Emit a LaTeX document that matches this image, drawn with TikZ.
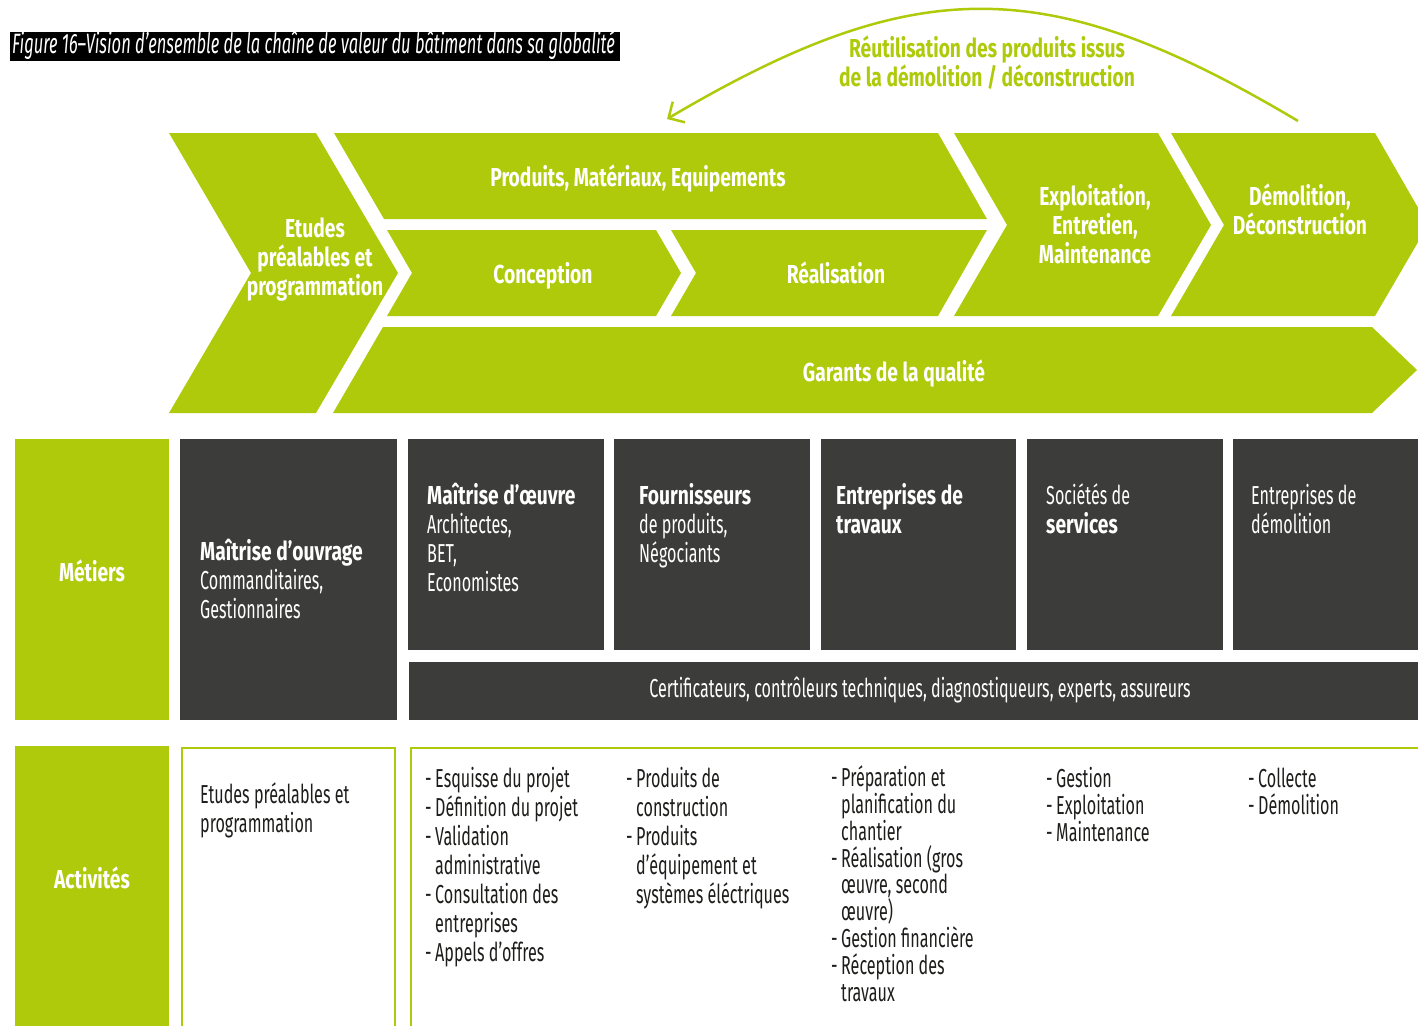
\documentclass[tikz,border=0pt]{standalone}
\usepackage{fontspec}
\setmainfont[UprightFeatures={FakeStretch=0.62},BoldFeatures={FakeStretch=0.74},ItalicFeatures={FakeStretch=0.59}]{Fira Sans}
\usetikzlibrary{arrows.meta}
\definecolor{vgreen}{RGB}{175,202,11}
\definecolor{vdark}{RGB}{60,60,59}
\definecolor{vtext}{RGB}{29,29,27}
\newcommand\vitem{\makebox[10pt][l]{-}}
\newcommand\vcont{\hspace*{10pt}}
\begin{document}
\begin{tikzpicture}[x=1pt,y=-1pt,
  greenshape/.style={fill=vgreen},
  darkshape/.style={fill=vdark},
  actbox/.style={draw=vgreen,line width=2.5pt},
  chevlabel/.style={text=white,font=\fontsize{26}{29}\selectfont\bfseries,align=center,inner sep=0pt},
  sidelabel/.style={chevlabel},
  boxtext/.style={text=white,font=\fontsize{26}{29}\selectfont,align=left,inner sep=0pt,anchor=base west},
  acttext/.style={text=vtext,font=\fontsize{26}{29}\selectfont,align=left,inner sep=0pt,anchor=base west},
  acttight/.style={acttext,font=\fontsize{26}{26.8}\selectfont},
  reuse/.style={draw=vgreen,line width=2.5pt,-{Straight Barb[length=12pt,width=24pt]}}
]
\useasboundingbox (0,0) rectangle (1418,1025);
\clip (0,0) rectangle (1418,1025);

% title
\fill[black] (10,32) rectangle (620,61);
\node[anchor=base west,text=white,inner sep=0pt,font=\itshape\fontsize{28}{30}\selectfont] (title) at (12,54) {Figure 16–Vision d’ensemble de la chaîne de valeur du bâtiment dans sa globalité};

% chevrons
\path[greenshape] (169,133) -- (316,133) -- (398,273) -- (316,413) -- (169,413) -- (251,273) -- cycle;
\path[greenshape] (334,133) -- (938,133) -- (987,219) -- (384,219) -- cycle;
\path[greenshape] (387,230) -- (656,230) -- (681,273) -- (656,316) -- (387,316) -- (412,273) -- cycle;
\path[greenshape] (671,230) -- (987,230) -- (938,316) -- (671,316) -- (696,273) -- cycle;
\path[greenshape] (954,133) -- (1158,133) -- (1211,225) -- (1158,316) -- (954,316) -- (1007,225) -- cycle;
\path[greenshape] (1171,133) -- (1375,133) -- (1428,225) -- (1375,316) -- (1171,316) -- (1224,225) -- cycle;
\path[greenshape] (383,327) -- (1372,327) -- (1417,370) -- (1372,413) -- (333,413) -- cycle;

\node[chevlabel] (etudes) at (315,260) {Etudes\\préalables et\\programmation};
\node[chevlabel] (prod) at (638,179) {Produits, Matériaux, Equipements};
\node[chevlabel] (conc) at (543,276) {Conception};
\node[chevlabel] (real) at (836,273) {Réalisation};
\node[chevlabel] (expl) at (1095,224) {Exploitation,\\Entretien,\\Maintenance};
\node[chevlabel] (demo) at (1300,209) {Démolition,\\Déconstruction};
\node[chevlabel] (gar) at (894,374) {Garants de la qualité};

% reuse arc
\coordinate (arcS) at (1298,121);
\coordinate (arcE) at (667,119);
\draw[reuse] (arcS) .. controls (1048,-28) and (916,-28) .. (arcE);
\node[chevlabel,text=vgreen] (reuselbl) at (987,63) {Réutilisation des produits issus\\de la démolition / déconstruction};

% metiers
\path[greenshape] (15,439) rectangle (169,720);
\node[sidelabel] (metiers) at (92,571) {Métiers};
\path[darkshape] (180,439) rectangle (397,720);
\path[darkshape] (408,439) rectangle (604,650);
\path[darkshape] (614,439) rectangle (810,650);
\path[darkshape] (821,439) rectangle (1016,650);
\path[darkshape] (1027,439) rectangle (1223,650);
\path[darkshape] (1233,439) rectangle (1430,650);
\path[darkshape] (409,662) rectangle (1430,720);

% anchors are at the baseline of the last line
\node[boxtext] (mo) at (200,618) {\textbf{Maîtrise d’ouvrage}\\Commanditaires,\\Gestionnaires};
\node[boxtext] (moe) at (427,591) {\textbf{Maîtrise d’œuvre}\\Architectes,\\BET,\\Economistes};
\node[boxtext] (four) at (639,562) {\textbf{Fournisseurs}\\de produits,\\Négociants};
\node[boxtext] (entr) at (836,533) {\textbf{Entreprises de}\\\textbf{travaux}};
\node[boxtext] (soc) at (1046,533) {Sociétés de\\\textbf{services}};
\node[boxtext] (edem) at (1251,533) {Entreprises de\\démolition};
\node[boxtext,anchor=base] (cert) at (920,697) {Certificateurs, contrôleurs techniques, diagnostiqueurs, experts, assureurs};

% activites
\path[greenshape] (15,746) rectangle (169,1030);
\node[sidelabel] (activites) at (92,878) {Activités};
\draw[actbox] (182,748) rectangle (395,1040);
\draw[actbox] (411,748) rectangle (1440,1040);

\node[acttext] (act1) at (200,832) {Etudes préalables et\\programmation};
\node[acttext] (act2) at (425,961) {\vitem Esquisse du projet\\\vitem Définition du projet\\\vitem Validation\\\vcont administrative\\\vitem Consultation des\\\vcont entreprises\\\vitem Appels d’offres};
\node[acttext] (act3) at (626,903) {\vitem Produits de\\\vcont construction\\\vitem Produits\\\vcont d’équipement et\\\vcont systèmes éléctriques};
\node[acttight] (act4) at (831,1001) {\vitem Préparation et\\\vcont planification du\\\vcont chantier\\\vitem Réalisation (gros\\\vcont œuvre, second\\\vcont œuvre)\\\vitem Gestion financière\\\vitem Réception des\\\vcont travaux};
\node[acttight] (act5) at (1046,841) {\vitem Gestion\\\vitem Exploitation\\\vitem Maintenance};
\node[acttight] (act6) at (1248,814) {\vitem Collecte\\\vitem Démolition};
\end{tikzpicture}
\end{document}
